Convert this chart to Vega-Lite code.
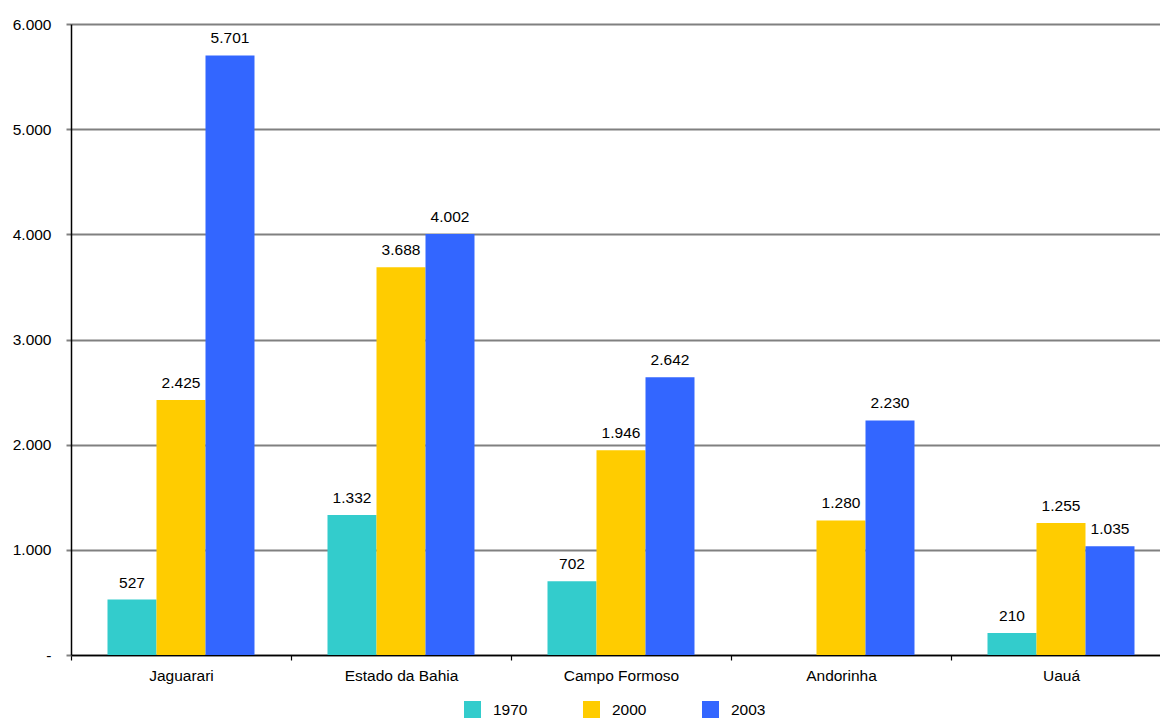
{
  "$schema": "https://vega.github.io/schema/vega-lite/v6.json",
  "autosize": {"type": "none"},
  "width": 1089,
  "height": 631,
  "padding": {"left": 71, "top": 24, "right": 0, "bottom": 63},
  "background": "white",
  "config": {
    "locale": {"number": {"decimal": ",", "thousands": ".", "grouping": [3], "currency": ["R$", ""]}},
    "font": "Liberation Sans",
    "view": {"stroke": null}
  },
  "data": {
    "values": [
      {"local": "Jaguarari", "ano": "1970", "valor": 527},
      {"local": "Jaguarari", "ano": "2000", "valor": 2425},
      {"local": "Jaguarari", "ano": "2003", "valor": 5701},
      {"local": "Estado da Bahia", "ano": "1970", "valor": 1332},
      {"local": "Estado da Bahia", "ano": "2000", "valor": 3688},
      {"local": "Estado da Bahia", "ano": "2003", "valor": 4002},
      {"local": "Campo Formoso", "ano": "1970", "valor": 702},
      {"local": "Campo Formoso", "ano": "2000", "valor": 1946},
      {"local": "Campo Formoso", "ano": "2003", "valor": 2642},
      {"local": "Andorinha", "ano": "2000", "valor": 1280},
      {"local": "Andorinha", "ano": "2003", "valor": 2230},
      {"local": "Uauá", "ano": "1970", "valor": 210},
      {"local": "Uauá", "ano": "2000", "valor": 1255},
      {"local": "Uauá", "ano": "2003", "valor": 1035}
    ]
  },
  "encoding": {
    "x": {
      "field": "local",
      "type": "nominal",
      "sort": ["Jaguarari", "Estado da Bahia", "Campo Formoso", "Andorinha", "Uauá"],
      "scale": {"range": [0, 1100], "paddingInner": 0, "paddingOuter": 0},
      "axis": {
        "title": null,
        "labelAngle": 0,
        "labelFont": "Liberation Sans",
        "labelFontSize": 15.5,
        "labelColor": "#000000",
        "labelPadding": 8,
        "domainColor": "#000000",
        "domainWidth": 1.5,
        "tickColor": "#000000",
        "tickSize": 5,
        "tickWidth": 1.2,
        "tickBand": "extent",
        "grid": false
      }
    },
    "xOffset": {"field": "ano", "type": "nominal", "sort": ["1970", "2000", "2003"], "scale": {"paddingInner": 0, "paddingOuter": 0.745}},
    "y": {
      "field": "valor",
      "type": "quantitative",
      "scale": {"domain": [0, 6000], "nice": false},
      "axis": {
        "title": null,
        "values": [0, 1000, 2000, 3000, 4000, 5000, 6000],
        "format": ",d",
        "labelExpr": "datum.value === 0 ? '-' : datum.label",
        "labelFont": "Liberation Sans",
        "labelFontSize": 15.5,
        "labelColor": "#000000",
        "labelPadding": 15,
        "domainColor": "#000000",
        "domainWidth": 1.5,
        "tickColor": "#808080",
        "tickSize": 5,
        "tickWidth": 2,
        "grid": true,
        "gridColor": "#808080",
        "gridWidth": 2
      }
    }
  },
  "layer": [
    {
      "mark": {"type": "bar", "stroke": null},
      "encoding": {
        "color": {
          "field": "ano",
          "type": "nominal",
          "scale": {"domain": ["1970", "2000", "2003"], "range": ["#33CCCC", "#FFCC00", "#3366FF"]},
          "legend": {
            "title": null,
            "orient": "none",
            "direction": "horizontal",
            "legendX": 393,
            "legendY": 677,
            "padding": 0,
            "symbolType": "square",
            "symbolSize": 289,
            "symbolStrokeWidth": 0,
            "symbolOpacity": 1,
            "labelFont": "Liberation Sans",
            "labelFontSize": 15.5,
            "labelColor": "#000000",
            "labelOffset": 12,
            "columnPadding": 55
          }
        }
      }
    },
    {
      "mark": {"type": "text", "baseline": "alphabetic", "dy": -12, "font": "Liberation Sans", "fontSize": 15.5, "color": "#000000"},
      "encoding": {
        "text": {"field": "valor", "type": "quantitative", "format": ",d"}
      }
    }
  ]
}
